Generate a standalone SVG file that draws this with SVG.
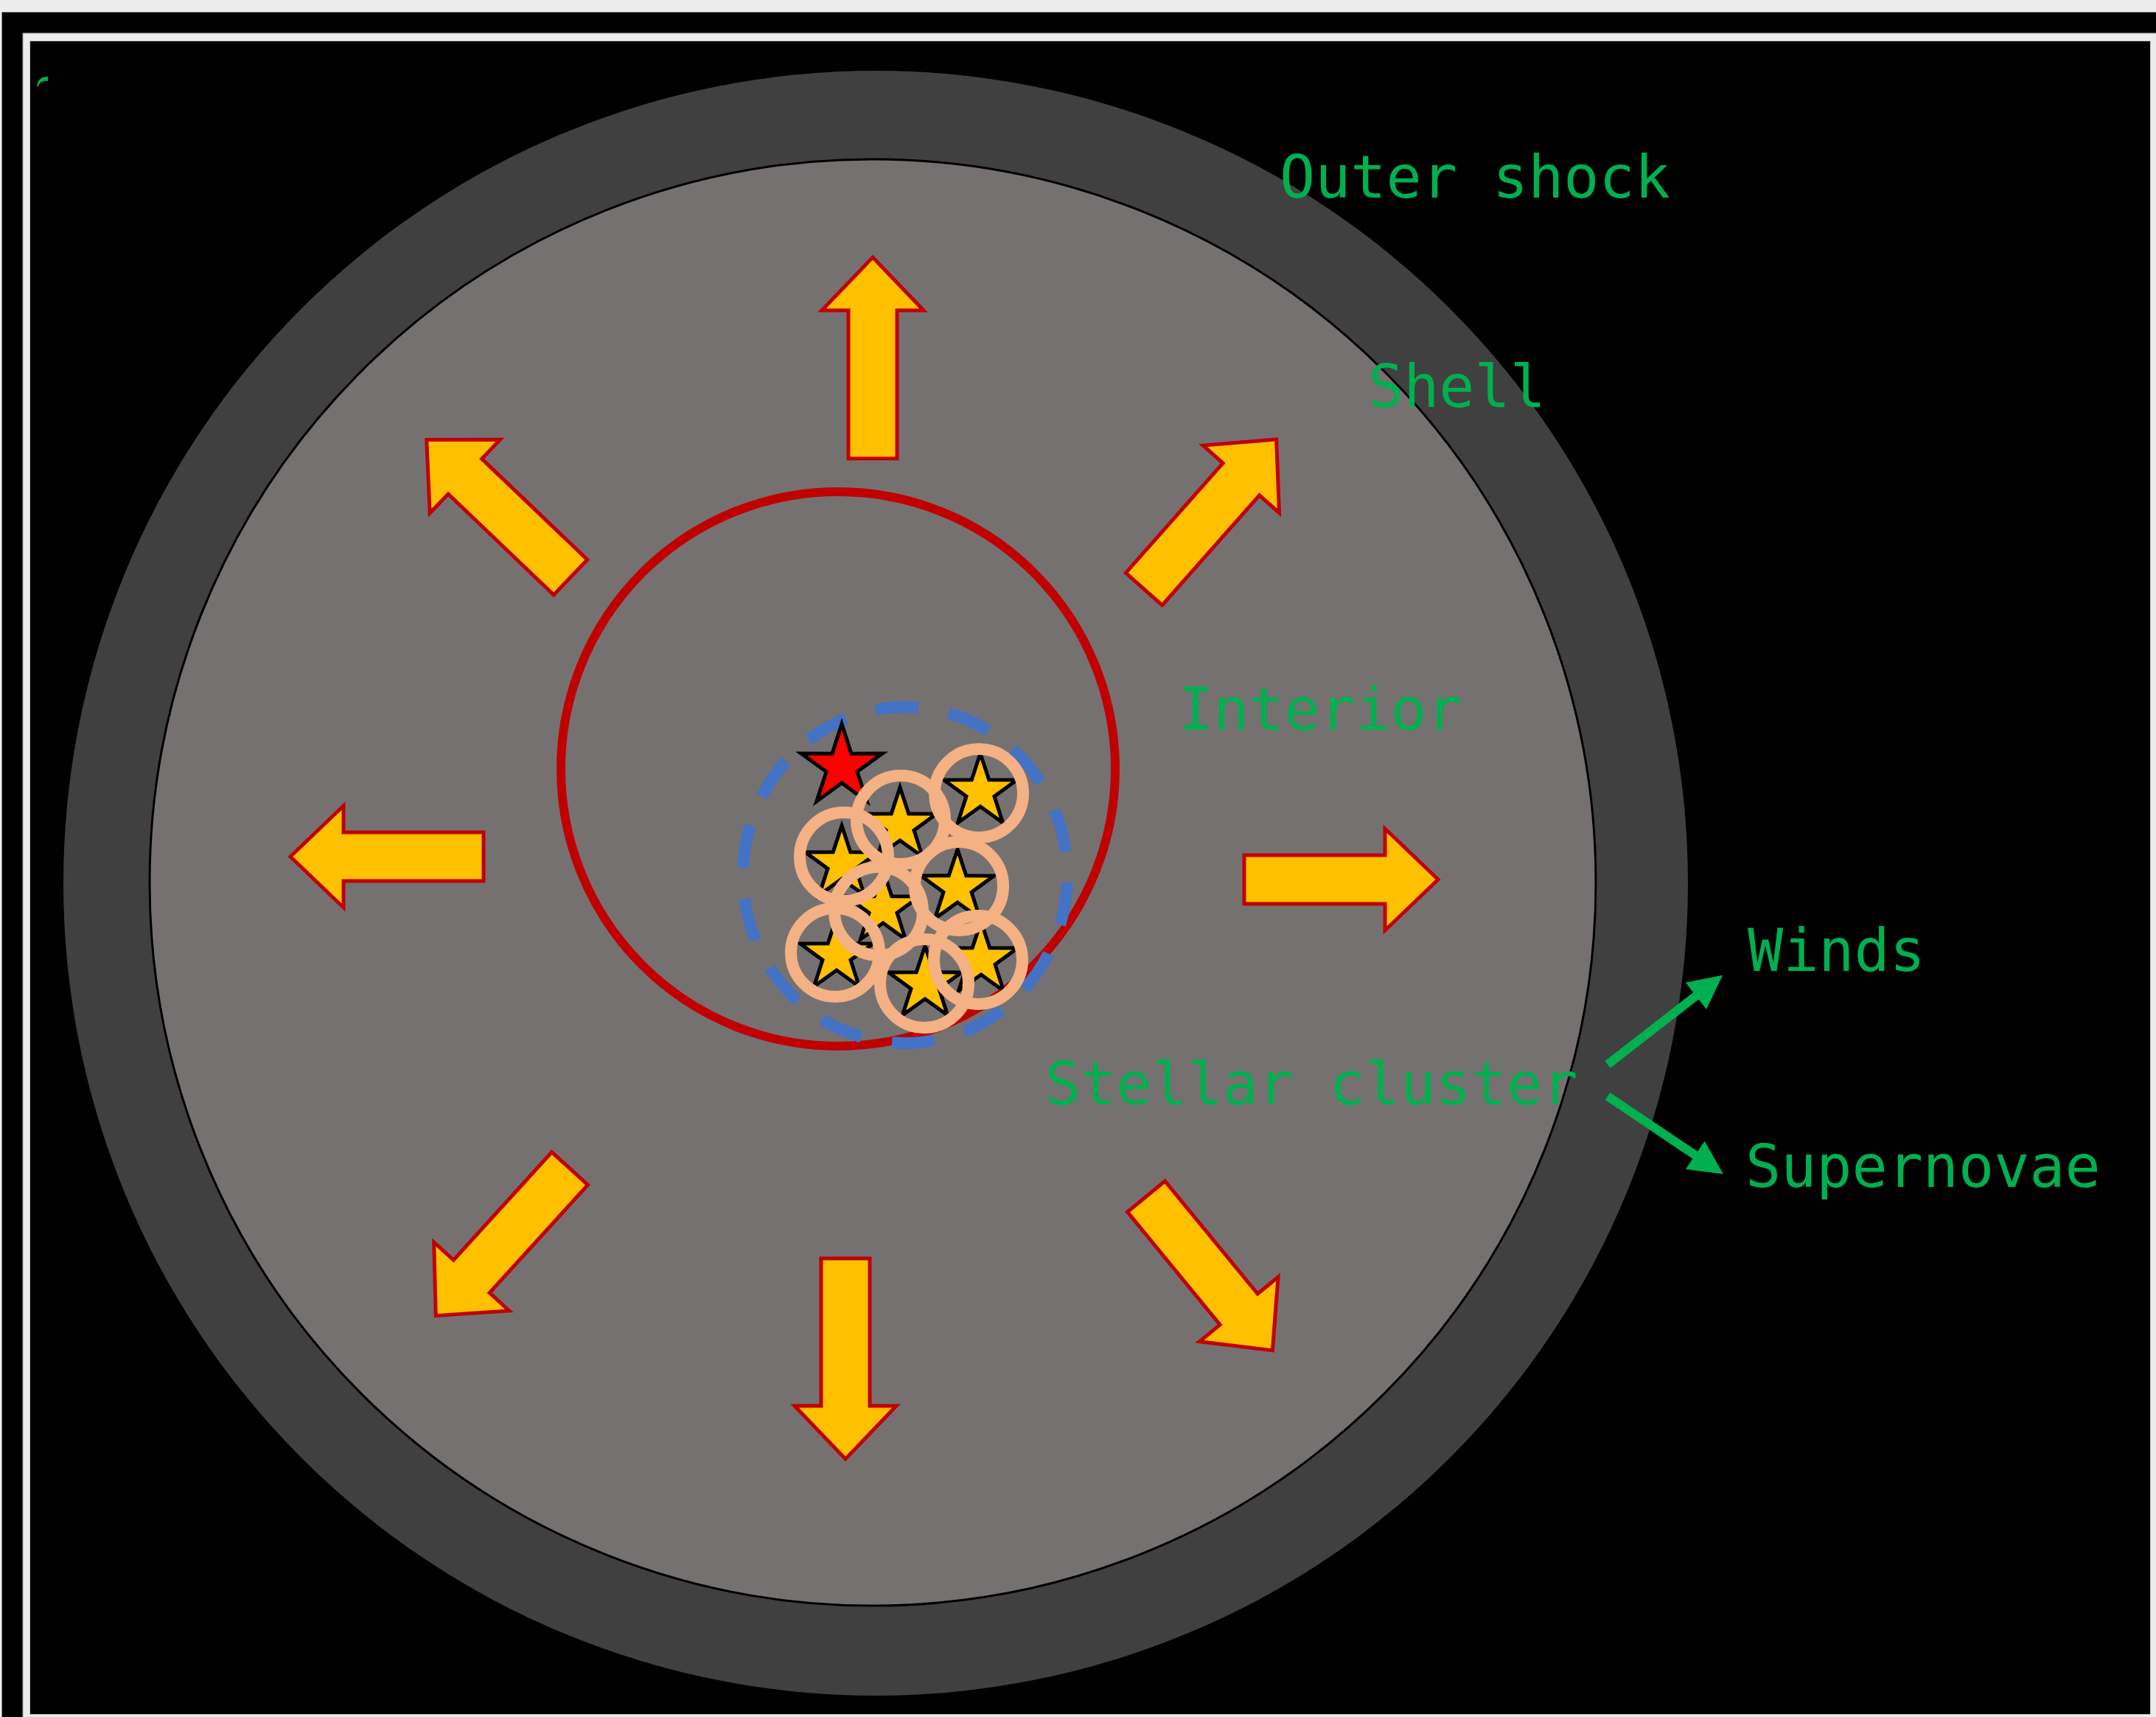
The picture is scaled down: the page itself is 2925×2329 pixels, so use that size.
<svg xmlns="http://www.w3.org/2000/svg" width="2925" height="2329" viewBox="0 0 2925 2329">
  <style>
    .label { font-family: "DejaVu Sans Mono", "Liberation Mono", monospace; font-size: 80px; fill: #00b050; }
    .flow { fill: #ffc000; stroke: #c00000; stroke-width: 5; stroke-linejoin: miter; }
    .star { fill: #ffc000; stroke: #000; stroke-width: 5; stroke-linejoin: miter; }
    .ring { fill: none; stroke: #f4b183; stroke-width: 16; }
    .link { stroke: #00b050; stroke-width: 12; fill: none; }
  </style>
  <defs>
    <polygon id="star5" points="0,-52 11.76,-16.18 49.45,-16.07 19.02,6.18 30.56,42.07 0,20 -30.56,42.07 -19.02,6.18 -49.45,-16.07 -11.76,-16.18"/>
    <marker id="head" markerUnits="userSpaceOnUse" viewBox="0 0 46 46" refX="4" refY="23" markerWidth="46" markerHeight="46" orient="auto">
      <path d="M0,0 L46,23 L0,46 Z" fill="#00b050"/>
    </marker>
  </defs>

  <!-- window frame -->
  <rect x="0" y="0" width="2925" height="2329" fill="#ececec"/>
  <rect x="2.5" y="16.5" width="2930" height="2320" fill="#000" stroke="#8a8a8a" stroke-width="1"/>
  <rect x="31" y="45" width="2900" height="2300" fill="#ececec" stroke="#9a9a9a" stroke-width="1"/>
  <rect x="40.5" y="55.5" width="2877" height="2270" fill="#000" stroke="#c8c8c8" stroke-width="1"/>
  <path d="M50,117 C51,108 56,104 65,104 L65,110 C59,109 54,111 52,117 Z" fill="#00b050"/>

  <!-- bubble layers -->
  <g id="outer-shock">
    <circle cx="1188" cy="1198" r="1102" fill="#404040"/>
  </g>
  <g id="shell">
    <circle cx="1184" cy="1197" r="981" fill="#767171" stroke="#000" stroke-width="3"/>
  </g>
  <g id="interior">
    <circle cx="1137" cy="1043" r="376" fill="none" stroke="#c00000" stroke-width="12"/>
  </g>
  <g id="cluster-boundary">
    <ellipse cx="1228" cy="1187" rx="220" ry="228" pathLength="1400" fill="none" stroke="#4472c4" stroke-width="16" stroke-dasharray="58 42" stroke-dashoffset="-10"/>
  </g>

  <!-- expansion arrows -->
  <g id="expansion">
    <path class="flow" transform="translate(1184,622) rotate(-90)" d="M0,-33 L201,-33 L201,-69 L273,0 L201,69 L201,33 L0,33 Z"/>
    <path class="flow" transform="translate(1688,1193)" d="M0,-33 L191,-33 L191,-69 L263,0 L191,69 L191,33 L0,33 Z"/>
    <path class="flow" transform="translate(656,1162) rotate(180)" d="M0,-33 L190,-33 L190,-69 L262,0 L190,69 L190,33 L0,33 Z"/>
    <path class="flow" transform="translate(1147,1707) rotate(90)" d="M0,-33 L200,-33 L200,-69 L272,0 L200,69 L200,33 L0,33 Z"/>
    <path class="flow" transform="translate(774,783) rotate(-136.3)" d="M0,-33 L198,-33 L198,-69 L270,0 L198,69 L198,33 L0,33 Z"/>
    <path class="flow" transform="translate(1552,799) rotate(-48.5)" d="M0,-33 L199,-33 L199,-69 L271,0 L199,69 L199,33 L0,33 Z"/>
    <path class="flow" transform="translate(773,1585) rotate(132.3)" d="M0,-33 L198,-33 L198,-69 L270,0 L198,69 L198,33 L0,33 Z"/>
    <path class="flow" transform="translate(1555,1623) rotate(50.6)" d="M0,-33 L198,-33 L198,-69 L270,0 L198,69 L198,33 L0,33 Z"/>
  </g>

  <!-- stellar cluster -->
  <g id="stellar-cluster">
    <polygon fill="#ff0000" stroke="#000" stroke-width="5" transform="translate(1142,1040)" points="0,-58 12.93,-17.80 55.16,-17.92 20.92,6.80 34.09,46.92 0,22 -34.09,46.92 -20.92,6.80 -55.16,-17.92 -12.93,-17.80"/>
    <use href="#star5" class="star" x="1330" y="1074"/>
    <use href="#star5" class="star" x="1221" y="1120"/>
    <use href="#star5" class="star" x="1142" y="1172"/>
    <use href="#star5" class="star" x="1299" y="1204"/>
    <use href="#star5" class="star" x="1198" y="1232"/>
    <use href="#star5" class="star" x="1135" y="1296"/>
    <use href="#star5" class="star" x="1255" y="1335"/>
    <use href="#star5" class="star" x="1331" y="1302"/>
    <circle class="ring" cx="1328" cy="1076" r="60"/>
    <circle class="ring" cx="1222" cy="1112" r="60"/>
    <circle class="ring" cx="1145" cy="1162" r="60"/>
    <circle class="ring" cx="1301" cy="1202" r="60"/>
    <circle class="ring" cx="1192" cy="1236" r="60"/>
    <circle class="ring" cx="1133" cy="1292" r="60"/>
    <circle class="ring" cx="1254" cy="1334" r="60"/>
    <circle class="ring" cx="1327" cy="1302" r="60"/>
  </g>

  <!-- labels -->
  <g id="labels">
    <text class="label" x="1736" y="268">Outer shock</text>
    <text class="label" x="1856" y="552">Shell</text>
    <text class="label" x="1598" y="990">Interior</text>
    <text class="label" x="1418" y="1498">Stellar cluster</text>
    <text class="label" x="2371" y="1317">Winds</text>
    <text class="label" x="2368" y="1610">Supernovae</text>
  </g>

  <!-- feedback connectors -->
  <g id="connectors">
    <line class="link" x1="2181" y1="1444" x2="2304" y2="1348.5" marker-end="url(#head)"/>
    <line class="link" x1="2181" y1="1487" x2="2303" y2="1569" marker-end="url(#head)"/>
  </g>
</svg>
